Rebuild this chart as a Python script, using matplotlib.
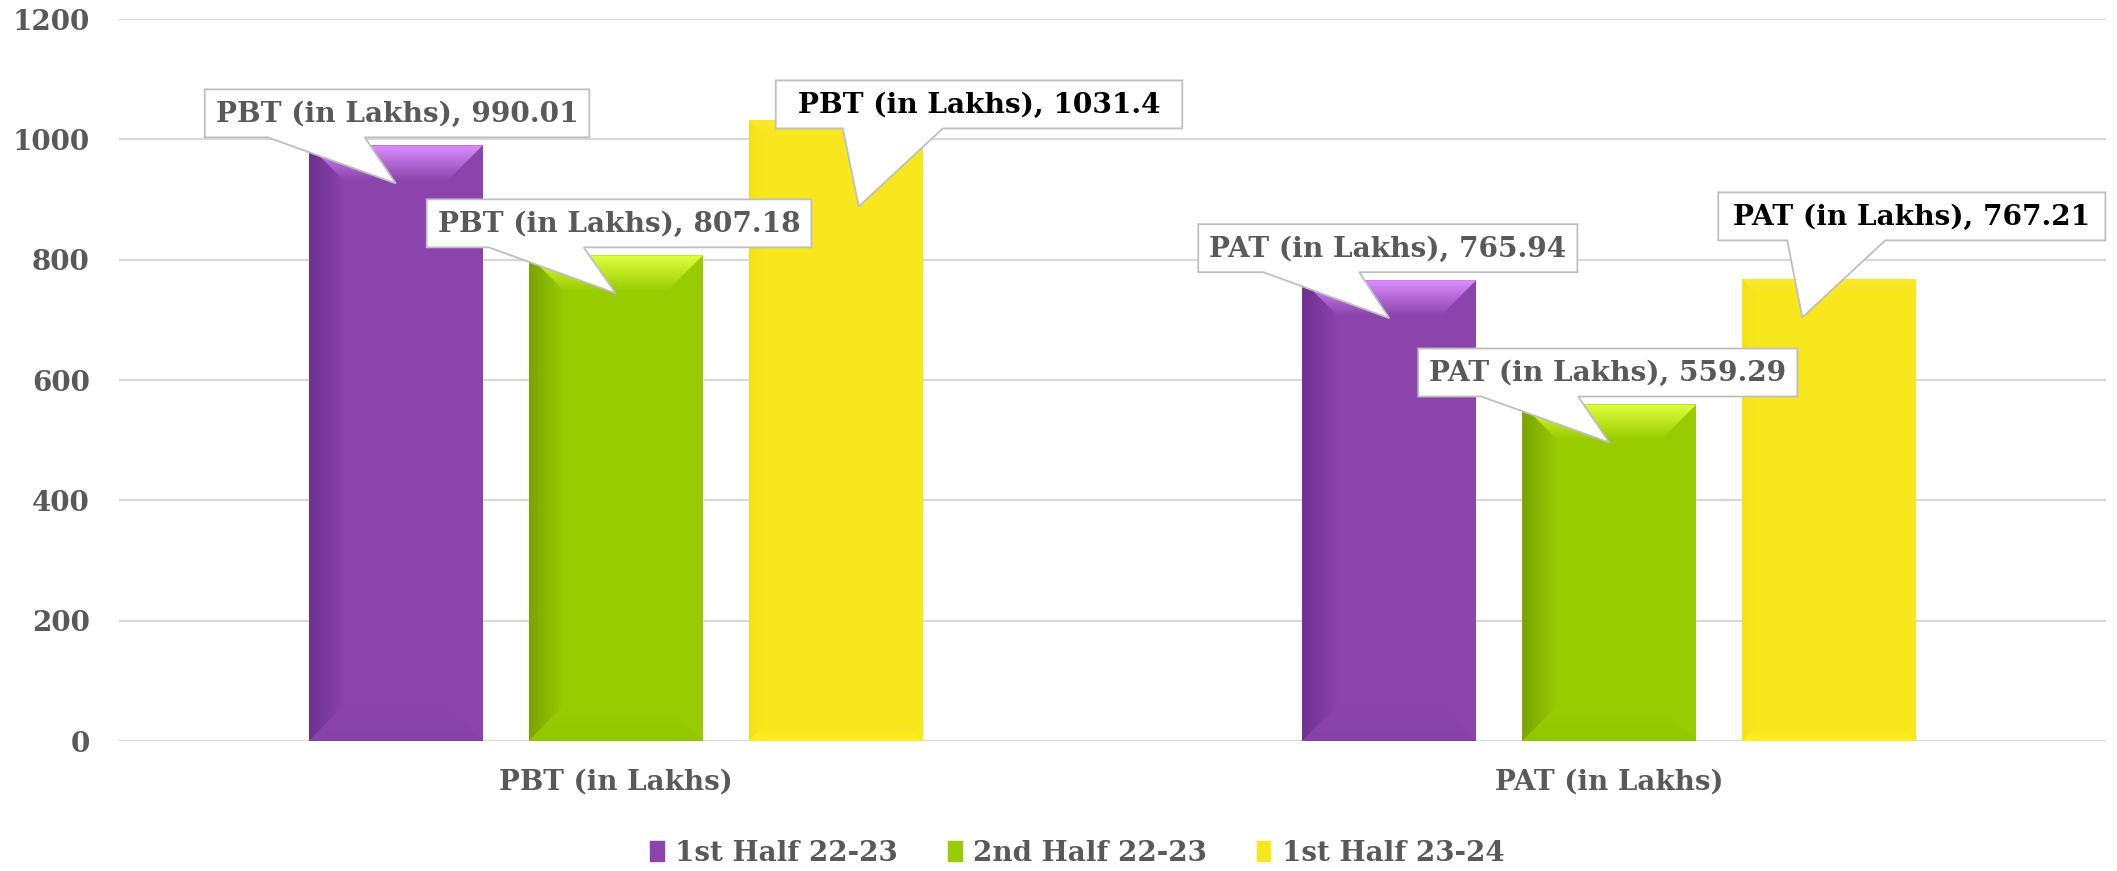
import numpy as np
import matplotlib
matplotlib.use("Agg")
import matplotlib.pyplot as plt
from matplotlib.patches import Polygon, Patch
from matplotlib.colors import to_rgb

plt.rcParams['font.family'] = ['DejaVu Serif']
plt.rcParams['font.weight'] = 'bold'

# data
categories = ["PBT (in Lakhs)", "PAT (in Lakhs)"]
series = ["1st Half 22-23", "2nd Half 22-23", "1st Half 23-24"]
h1_2223 = [990.01, 765.94]
h2_2223 = [807.18, 559.29]
h1_2324 = [1031.4, 767.21]
values = [h1_2223, h2_2223, h1_2324]

# style: base, top highlight, left shade, label colour
styles = [("#8B44AC", "#DC8CFF", "#6E3190", "#595959"),
          ("#99CC00", "#E0FF40", "#7AA300", "#595959"),
          ("#F8E71C", "#FAEA2E", "#F3E21A", "#000000")]

W, H = 2117, 871
fig = plt.figure(figsize=(W/100, H/100), dpi=100)
ax_l, ax_r, ax_b, ax_t = 119, 2106, 741, 19
ax = fig.add_axes([ax_l/W, 1-ax_b/H, (ax_r-ax_l)/W, (ax_b-ax_t)/H])
XL = (-0.5, 1.5); YL = (0, 1200)
sx = (ax_r-ax_l)/(XL[1]-XL[0])    # px per x unit
sy = (ax_b-ax_t)/(YL[1]-YL[0])    # px per y unit

grid_c = "#D9D9D9"; txt_c = "#595959"
for yv in range(0, 1201, 200):
    ax.axhline(yv, color=grid_c, lw=1.6, zorder=1)

def grad_poly(verts, c0, c1, vertical=True, z=3):
    poly = Polygon(verts, closed=True, fc='none', ec='none')
    ax.add_patch(poly)
    xs, ys = zip(*verts)
    t = np.linspace(0, 1, 64)[:, None]
    cols = np.array(to_rgb(c0))*(1-t) + np.array(to_rgb(c1))*t
    img = cols[:, None, :] if vertical else cols[None, :, :]
    im = ax.imshow(img, extent=(min(xs), max(xs), min(ys), max(ys)), origin='upper',
                   aspect='auto', interpolation='bilinear', zorder=z)
    im.set_clip_path(poly)

bw = 174/sx; step = 220/sx
x = np.arange(len(categories))
containers = []
for i, (vals, st) in enumerate(zip(values, styles)):
    bars = ax.bar(x + (i-1)*step, vals, bw, color=st[0], zorder=2, label=series[i])
    containers.append(bars)
    for p in bars:
        x0, x1, top = p.get_x(), p.get_x()+p.get_width(), p.get_height()
        d = 36 if i < 2 else 14
        dx, dy = d/sx, d/sy
        # left shade
        grad_poly([(x0, top), (x0+dx, top-dy), (x0+dx, dy), (x0, 0)], st[2], st[0], vertical=False)
        # top highlight
        grad_poly([(x0, top), (x1, top), (x1-dx, top-dy), (x0+dx, top-dy)], st[1], st[0])
        # bottom bevel, very soft
        c = to_rgb(st[0])
        bot = tuple(min(1, v*1.04) for v in c) if i == 2 else tuple(v*0.97 for v in c)
        grad_poly([(x0, 0), (x1, 0), (x1-dx, dy), (x0+dx, dy)], st[0], bot)

ax.set_xlim(*XL); ax.set_ylim(*YL)
ax.set_yticks(range(0, 1201, 200))
ax.set_xticks(x, categories)
ax.tick_params(axis='y', length=0, pad=21, labelsize=20, labelcolor=txt_c)
ax.tick_params(axis='x', length=0, pad=20, labelsize=20, labelcolor=txt_c)
for s in ax.spines.values():
    s.set_visible(False)

# callouts: (tip dx from bar centre, tip depth below top, box left rel tip, box rise, base l, base r, pad)
layout = [[(0, 38, -191, 46, 63, 160, 11), (0, 38, -191, 46, 65, 161, 11)],
          [(0, 38, -189, 46, 62, 157, 11), (0, 38, -191, 46, 63, 160, 11)],
          [(23, 86, -83, 78, 67, 167, 22), (-27, 38, -84, 77, 69, 167, 15)]]
renderer = fig.canvas.get_renderer()
for i, bars in enumerate(containers):
    for j, p in enumerate(bars):
        tdx, tdy, bdx, rise, bl, br, pad = layout[i][j]
        v = values[i][j]
        cx = p.get_x() + p.get_width()/2
        tip = (cx + tdx/sx, v - tdy/sy)
        L = tip[0] + bdx/sx
        B = tip[1] + rise/sy
        T = B + 48/sy
        t = ax.text(0, 0, f"{categories[j]}, {v}", fontsize=20.2, color=styles[i][3],
                    ha='center', va='center', zorder=7, clip_on=False)
        w = t.get_window_extent(renderer).width + 2*pad
        R = L + w/sx
        t.set_position(((L+R)/2, (B+T)/2 - 1/sy))
        verts = [(L, T), (R, T), (R, B), (L+br/sx, B), tip, (L+bl/sx, B), (L, B)]
        ax.add_patch(Polygon(verts, closed=True, fc='white', ec='#BFBFBF', lw=1.3,
                             zorder=6, clip_on=False))

handles = [Patch(color=st[0]) for st in styles]
leg = fig.legend(handles, series, loc='center', bbox_to_anchor=(1077/W, 1-853/H),
                 ncol=3, frameon=False, fontsize=20, handlelength=0.5, handleheight=0.75,
                 handletextpad=0.4, columnspacing=1.8)
for t in leg.get_texts():
    t.set_color(txt_c)

fig.savefig("out.png", dpi=100, facecolor='white')
